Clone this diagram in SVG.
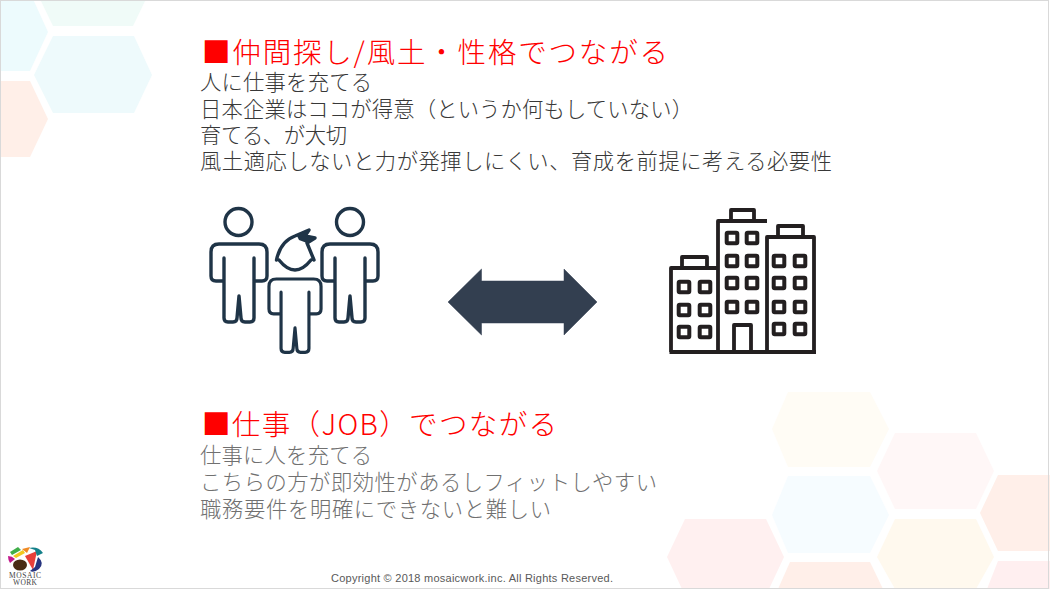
<svg xmlns="http://www.w3.org/2000/svg" xmlns:xlink="http://www.w3.org/1999/xlink" width="1050" height="589" viewBox="0 0 1050 589">
<style>
text{font-family:"Noto Sans CJK JP","Noto Sans",sans-serif;font-weight:300}
.title{font-size:28.5px;fill:#ff0000}
.body{font-size:21.3px}
.dark{fill:#383838}
.gray{fill:#707070}
.foot{font-family:"Liberation Sans",Arial,sans-serif;font-size:11px;font-weight:400;fill:#595959}
.logo{font-family:"Liberation Serif",serif;font-size:7.5px;font-weight:400;fill:#444}
.p{fill:none;stroke:#1f3447;stroke-width:3.4;stroke-linejoin:round;stroke-linecap:round}
.b{fill:none;stroke:#231f20;stroke-width:3.8;stroke-linejoin:round}
.w{fill:none;stroke:#231f20;stroke-width:4}
</style>
<defs>
<g id="body"><path d="M-20,0H20Q28,0 28,8V32Q28,37 23,37H15M15,14V74Q15,78 11,78H6Q2,78 2,74L0,52L-2,74Q-2,78 -6,78H-11Q-15,78 -15,74V14M-15,37H-23Q-28,37 -28,32V8Q-28,0 -20,0"/></g>
<rect id="win" x="-5.300" y="-5.300" width="10.600" height="10.600" rx="1"/>
</defs>
<rect x="0" y="0" width="1050" height="589" fill="#ffffff"/>
<g id="background">
<polygon points="40,-1 146,-1 133,26 53,26" fill="#f0fbf8"/>
<polygon points="0,-1 33,-1 48,32 30,71 0,71" fill="#edfbfd"/>
<polygon points="53,36 134,36 152,75 134,113 53,113 34,75" fill="#eefafc"/>
<polygon points="0,81 30,81 48,119 30,157 0,157" fill="#ffefe8"/>
<polygon points="788,392 870,392 889,429 870,467 788,467 772,429" fill="#fffcf5"/>
<polygon points="895,433 976,433 994,471 976,509 895,509 877,471" fill="#fff7f7"/>
<polygon points="788,476 870,476 889,515 870,553 788,553 772,515" fill="#f6fcff"/>
<polygon points="998,475 1050,475 1050,551 998,551 980,513" fill="#ffefe9"/>
<polygon points="895,519 976,519 994,557 976,589 895,589 877,557" fill="#fff9ee"/>
<polygon points="685,519 766,519 784,557 769,589 682,589 667,557" fill="#fff0f0"/>
<polygon points="790,562 870,562 883,589 778,589" fill="#ffefe9"/>
<polygon points="998,561 1050,561 1050,589 987,589" fill="#ffeff0"/>
<rect x="0.500" y="0.500" width="1048" height="588" fill="none" stroke="#d9d9d9"/>
</g>
<g id="section-culture">
<text class="title" x="202" y="63" textLength="466">■仲間探し/風土・性格でつながる</text>
<text class="body dark" x="200" y="90" textLength="172">人に仕事を充てる</text>
<text class="body dark" x="200" y="117" textLength="493">日本企業はココが得意（というか何もしていない）</text>
<text class="body dark" x="200" y="143" textLength="147">育てる、が大切</text>
<text class="body dark" x="200" y="169" textLength="632">風土適応しないと力が発揮しにくい、育成を前提に考える必要性</text>
</g>
<g id="people" class="p">
<circle cx="238.500" cy="222" r="13.500"/>
<use href="#body" x="239" y="244"/>
<circle cx="350" cy="222" r="13.500"/>
<use href="#body" x="350" y="244"/>
<use href="#body" transform="translate(295,279) scale(0.93,0.94)"/>
<path d="M276.500,260C279,248 284,240 295,236L309,230L305,236L315,238L307,243L314,260M279,260Q295,280 311,260"/>
<path d="M297,236L309,230L305,236L315,238L307,243L299,240Z" fill="#1f3447" stroke="none"/>
</g>
<g id="connectors">
<polygon points="448,302 481.500,269 481.500,281 564,281 564,269 597,302 564,335 564,323 481.500,323 481.500,335" fill="#333f50" stroke="#333f50" stroke-width="0.500"/>
</g>
<g id="buildings">
<path class="b" d="M669.500,352H816M671,352V268H718M718,352V221H767M767,352V237H814V352M682,268V257H707V268M731,221V210H754V221M778,237V226H803V237M734,352V325H751V352"/>
<g class="w">
<use href="#win" x="684" y="287"/><use href="#win" x="705" y="287"/>
<use href="#win" x="684" y="310"/><use href="#win" x="705" y="310"/>
<use href="#win" x="684" y="332"/><use href="#win" x="705" y="332"/>
<use href="#win" x="732" y="238"/><use href="#win" x="752" y="238"/>
<use href="#win" x="732" y="261"/><use href="#win" x="752" y="261"/>
<use href="#win" x="732" y="283"/><use href="#win" x="752" y="283"/>
<use href="#win" x="732" y="307"/><use href="#win" x="752" y="307"/>
<use href="#win" x="779" y="261"/><use href="#win" x="800" y="261"/>
<use href="#win" x="779" y="283"/><use href="#win" x="800" y="283"/>
<use href="#win" x="779" y="307"/><use href="#win" x="800" y="307"/>
<use href="#win" x="779" y="329"/><use href="#win" x="800" y="329"/>
</g>
</g>
<g id="section-job">
<text class="title" x="202" y="435" textLength="355">■仕事（JOB）でつながる</text>
<text class="body gray" x="200" y="463" textLength="172">仕事に人を充てる</text>
<text class="body gray" x="200" y="490" textLength="457">こちらの方が即効性があるしフィットしやすい</text>
<text class="body gray" x="200" y="517" textLength="351">職務要件を明確にできないと難しい</text>
</g>
<g id="logo">
<path d="M10,552L18,547L21,550L12,555Z" fill="#3fae49"/>
<path d="M13,556L23,550L25,553L16,558Z" fill="#f2c81e"/>
<path d="M8,556Q12,556 15,559L10,563Q8,560 8,556Z" fill="#c2188b"/>
<ellipse cx="20" cy="565" rx="7" ry="5.500" fill="#4a2c14"/>
<path d="M25,556L37,551L33,570Z" fill="#e8403a"/>
<path d="M29,548Q38,546 43,553L37,556L35,550Z" fill="#14808a"/>
<path d="M38,557Q45,563 39,569Q34,573 30,571L35,567Z" fill="#27357f"/>
<path d="M22,549L30,547L27,553Z" fill="#f08a24"/>
<text class="logo" x="25" y="578" text-anchor="middle" textLength="32">MOSAIC</text>
<text class="logo" x="25" y="585" text-anchor="middle" textLength="24">WORK</text>
</g>
<g id="footer">
<text class="foot" x="331" y="582" textLength="282">Copyright © 2018 mosaicwork.inc. All Rights Reserved.</text>
</g>
</svg>
